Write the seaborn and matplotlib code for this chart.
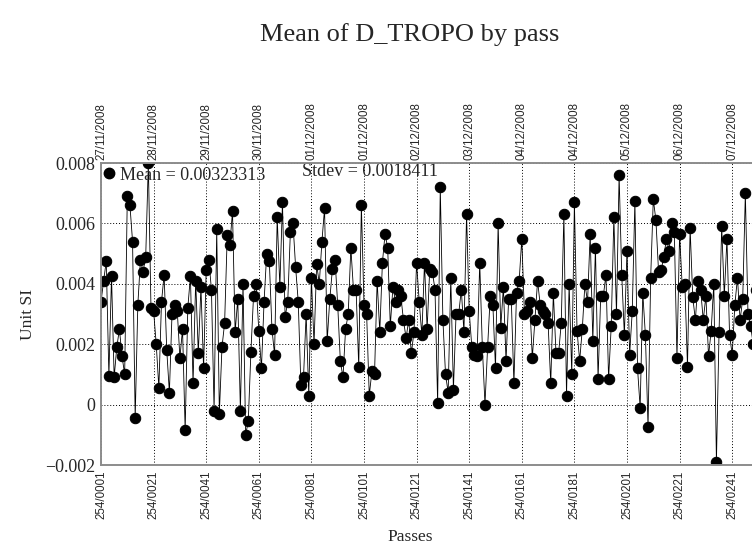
import numpy as np
import pandas as pd
import seaborn as sns
import matplotlib.pyplot as plt
from matplotlib.lines import Line2D

sns.set_theme(style="ticks")
plt.rcParams['font.family'] = ['Liberation Serif', 'DejaVu Serif']

# mean D_TROPO per pass
d_tropo = [
    0.0034, 0.0041, 0.00475, 0.00095, 0.00425, 0.0009, 0.0019, 0.0025, 0.0016, 0.0010,
    0.0069, 0.0066, 0.0054, -0.00045, 0.0033, 0.0048, 0.0044, 0.0049, 0.0080, 0.0032,
    0.0031, 0.0020, 0.00055, 0.0034, 0.0043, 0.0018, 0.0004, 0.0030, 0.0033, 0.0031,
    0.00155, 0.0025, -0.00085, 0.0032, 0.00425, 0.0007, 0.0041, 0.0017, 0.0039, 0.0012,
    0.00445, 0.0048, 0.0038, -0.0002, 0.0058, -0.0003, 0.0019, 0.0027, 0.0056, 0.0053,
    0.0064, 0.0024, 0.0035, -0.0002, 0.0040, -0.0010, -0.00055, 0.00175, 0.0036, 0.0040,
    0.00245, 0.0012, 0.0034, 0.0050, 0.00475, 0.0025, 0.00165, 0.0062, 0.0039, 0.0067,
    0.0029, 0.0034, 0.0057, 0.0060, 0.00455, 0.0034, 0.00065, 0.0009, 0.0030, 0.0003,
    0.0042, 0.0020, 0.00465, 0.0040, 0.0054, 0.0065, 0.0021, 0.0035, 0.0045, 0.0048,
    0.0033, 0.00145, 0.0009, 0.0025, 0.0030, 0.0052, 0.0038,
    0.0038, 0.00125, 0.0066, 0.0033, 0.0030, 0.0003, 0.0011, 0.0010, 0.0041, 0.0024,
    0.0047, 0.00565, 0.0052, 0.0026, 0.0039, 0.0034, 0.0038, 0.0036, 0.0028, 0.0022,
    0.0028, 0.0017, 0.0024, 0.0047, 0.0034, 0.0023, 0.0047, 0.0025, 0.0045, 0.0044,
    0.0038, 0.00005, 0.0072, 0.0028, 0.0010, 0.0004, 0.0042, 0.0005, 0.0030, 0.0030,
    0.0038, 0.0024, 0.0063, 0.0031, 0.0019, 0.00165, 0.0016, 0.0047, 0.0019, 0.0,
    0.0019, 0.0036,
    0.0033, 0.0012, 0.0060, 0.00255, 0.0039, 0.00145, 0.0035, 0.0035, 0.0007, 0.0037,
    0.0041, 0.0055, 0.0030, 0.0031, 0.0034, 0.00155, 0.0028, 0.0041, 0.0033, 0.0031,
    0.0030, 0.0027, 0.0007, 0.0037, 0.0017, 0.0017, 0.0027, 0.0063, 0.0003, 0.0040,
    0.0010, 0.0067, 0.00245, 0.00145, 0.0025, 0.0040, 0.0034, 0.00565, 0.0021, 0.0052,
    0.00085, 0.0036, 0.0036, 0.0043, 0.00085, 0.0026, 0.0062, 0.0030, 0.0076,
    0.0043, 0.0023, 0.0051, 0.00165, 0.0031, 0.00675, 0.0012, -0.0001, 0.0037, 0.0023,
    -0.00075, 0.0042, 0.0068, 0.0061, 0.0044, 0.00445, 0.0049, 0.0055, 0.0051, 0.0060,
    0.0057, 0.00155, 0.00565, 0.0039, 0.0040, 0.00125, 0.00585, 0.00355, 0.0028, 0.0041,
    0.0038, 0.0028, 0.0036, 0.0016, 0.00245, 0.0040, -0.0019, 0.0024, 0.0059, 0.0036,
    0.0055, 0.0023, 0.00165, 0.0033, 0.0042, 0.0028, 0.0035, 0.0070, 0.0030, 0.0026,
    0.0020, 0.0038, 0.0022,
]
passes = np.arange(1, len(d_tropo) + 1)

tick_passes = [1, 21, 41, 61, 81, 101, 121, 141, 161, 181, 201, 221, 241]
pass_labels = ["254/0001", "254/0021", "254/0041", "254/0061", "254/0081",
               "254/0101", "254/0121", "254/0141", "254/0161", "254/0181",
               "254/0201", "254/0221", "254/0241"]
date_labels = ["27/11/2008", "28/11/2008", "29/11/2008", "30/11/2008",
               "01/12/2008", "01/12/2008", "02/12/2008", "03/12/2008",
               "04/12/2008", "04/12/2008", "05/12/2008", "06/12/2008",
               "07/12/2008"]
y_ticks = [-0.002, 0, 0.002, 0.004, 0.006, 0.008]
y_labels = ["\u22120.002", "0", "0.002", "0.004", "0.006", "0.008"]

mean_txt = "Mean = 0.00323313"
stdev_txt = "Stdev = 0.0018411"

df = pd.DataFrame({"pass": passes, "value": d_tropo})

fig = plt.figure(figsize=(7.52, 5.45), dpi=100)
# the axes runs past the right edge, like the original export
ax = fig.add_axes([101 / 752, 80 / 545, 259 * 2.63 / 752, 302 / 545])

sns.lineplot(data=df, x="pass", y="value", ax=ax, color="black", linewidth=0.6,
             marker="o", markersize=7.5, markeredgecolor="black", markerfacecolor="black")

ax.set_xlim(1, 260)
ax.set_ylim(-0.002, 0.008)
ax.set_xticks(tick_passes)
ax.set_xticklabels(pass_labels, rotation=90, fontsize=8.3, family="Liberation Sans")
ax.set_yticks(y_ticks)
ax.set_yticklabels(y_labels, fontsize=13)
ax.tick_params(length=0, pad=4)
ax.grid(True, color="black", linestyle=(0, (1, 2)), linewidth=0.7)
ax.set_xlabel("")
ax.set_ylabel("")
for s in ax.spines.values():
    s.set_color("#8c8c8c")
    s.set_linewidth(1.2)

top = ax.twiny()
top.set_xlim(ax.get_xlim())
top.set_xticks(tick_passes)
top.set_xticklabels(date_labels, rotation=90, fontsize=8.3, family="Liberation Sans")
top.tick_params(length=0, pad=2)
for s in top.spines.values():
    s.set_color("#8c8c8c")
    s.set_linewidth(1.2)

handle = Line2D([], [], marker="o", color="black", linestyle="none", markersize=7.5)
ax.legend([handle], [mean_txt], loc="upper left", frameon=False, fontsize=13,
          handletextpad=0.1, borderaxespad=0.0, bbox_to_anchor=(-0.012, 1.012),
          handlelength=1.0)
ax.text(0.295, 0.972, stdev_txt, transform=ax.transAxes, fontsize=13, va="center")

fig.text(410 / 752, 1 - 35 / 545, "Mean of D_TROPO by pass", ha="center", va="center",
         fontsize=19)
fig.text(28 / 752, 1 - 314 / 545, "Unit SI", rotation=90, ha="center", va="center",
         fontsize=12.5)
fig.text(410 / 752, 1 - 537 / 545, "Passes", ha="center", va="center", fontsize=12.5)

fig.savefig("out.png", dpi=100)
